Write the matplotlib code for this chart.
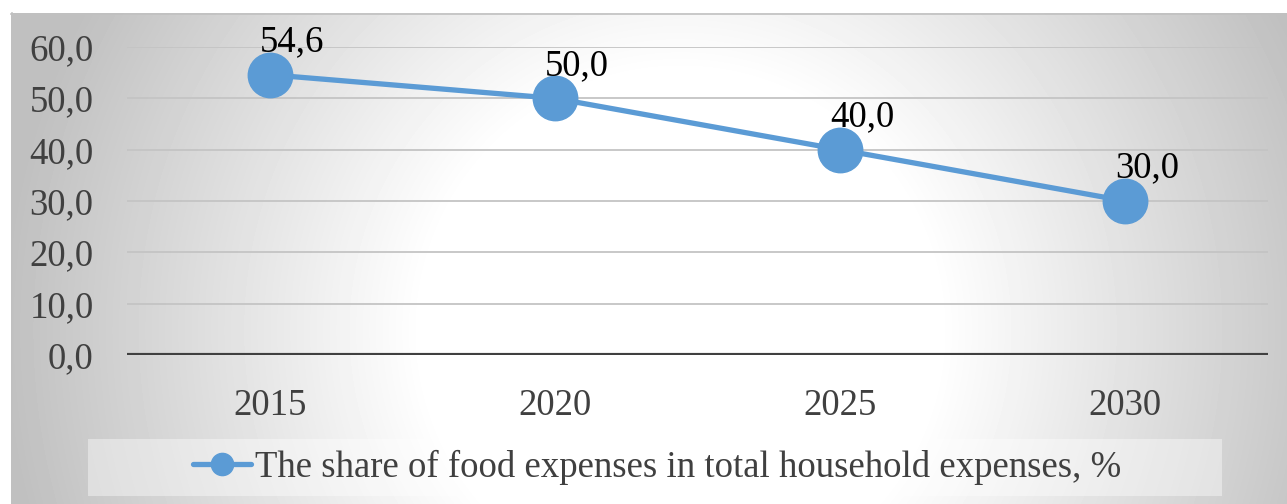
import numpy as np
import matplotlib
matplotlib.use("Agg")
from matplotlib import pyplot as plt
from matplotlib.patches import Rectangle

plt.rcParams['font.family'] = ['Liberation Serif', 'DejaVu Serif']

years = ["2015", "2020", "2025", "2030"]
share = [54.6, 50.0, 40.0, 30.0]
labels = ["54,6", "50,0", "40,0", "30,0"]
yticks = [0, 10, 20, 30, 40, 50, 60]
legend_label = "The share of food expenses in total household expenses, %"

W, H = 1287, 504
fs = 26.5
fig = plt.figure(figsize=(W / 100, H / 100), dpi=100)
fig.patch.set_facecolor("white")

# radial grey background (pixel coordinates, y down)
bg = fig.add_axes([0, 0, 1, 1], zorder=0)
bg.set_xlim(0, W)
bg.set_ylim(H, 0)
bg.axis("off")
xx, yy = np.meshgrid(np.arange(11, W), np.arange(13, H))
d = np.hypot(xx - 680, yy - 330) / 680
v = 1 - 0.25 * np.clip((d - 0.38) / 0.62, 0, 1)
bg.imshow(v, cmap="gray", vmin=0, vmax=1, extent=(11, W, H, 13), aspect="auto", interpolation="bilinear")
bg.plot([11, W], [13.5, 13.5], color="#c0c0c0", lw=1.2)
bg.plot([11.5, 11.5], [13, H], color="#c0c0c0", lw=1.2)
# legend box
bg.add_patch(Rectangle((88, 439), 1134, 57, facecolor="white", alpha=0.4, edgecolor="none"))

ax = fig.add_axes([127 / W, 1 - 355 / H, (1268 - 127) / W, (355 - 47) / H], zorder=1)
ax.patch.set_alpha(0)
x = np.arange(len(years))
line, = ax.plot(x, share, color="#5b9bd5", lw=3.8, marker="o", markersize=32,
                solid_capstyle="round", zorder=3, label=legend_label)
for xi, yi, lab in zip(x, share, labels):
    ax.annotate(lab, (xi, yi), xytext=(16, 17), textcoords="offset points",
                ha="center", va="baseline", fontsize=fs, color="black", zorder=4)

ax.set_xlim(-0.5, 3.5)
ax.set_ylim(0, 60)
ax.set_yticks(yticks)
ax.set_yticklabels([f"{t},0" for t in yticks])
ax.set_xticks(x)
ax.set_xticklabels(years)
ax.tick_params(axis="y", length=0, pad=24, labelsize=fs, labelcolor="#404040")
ax.tick_params(axis="x", length=0, pad=24, labelsize=fs, labelcolor="#404040")
for s in ax.spines.values():
    s.set_visible(False)
ax.grid(axis="y", color="#c4c4c4", lw=1.3, zorder=1)
ax.axhline(0, color="#404040", lw=3.0, zorder=2.5)

fig.legend(handles=[line], loc="center", bbox_to_anchor=(657 / W, 1 - 467 / H),
           frameon=False, fontsize=fs, markerscale=0.5, handlelength=1.6,
           handletextpad=0.1, labelcolor="#404040")

fig.savefig("out.png", dpi=100)
